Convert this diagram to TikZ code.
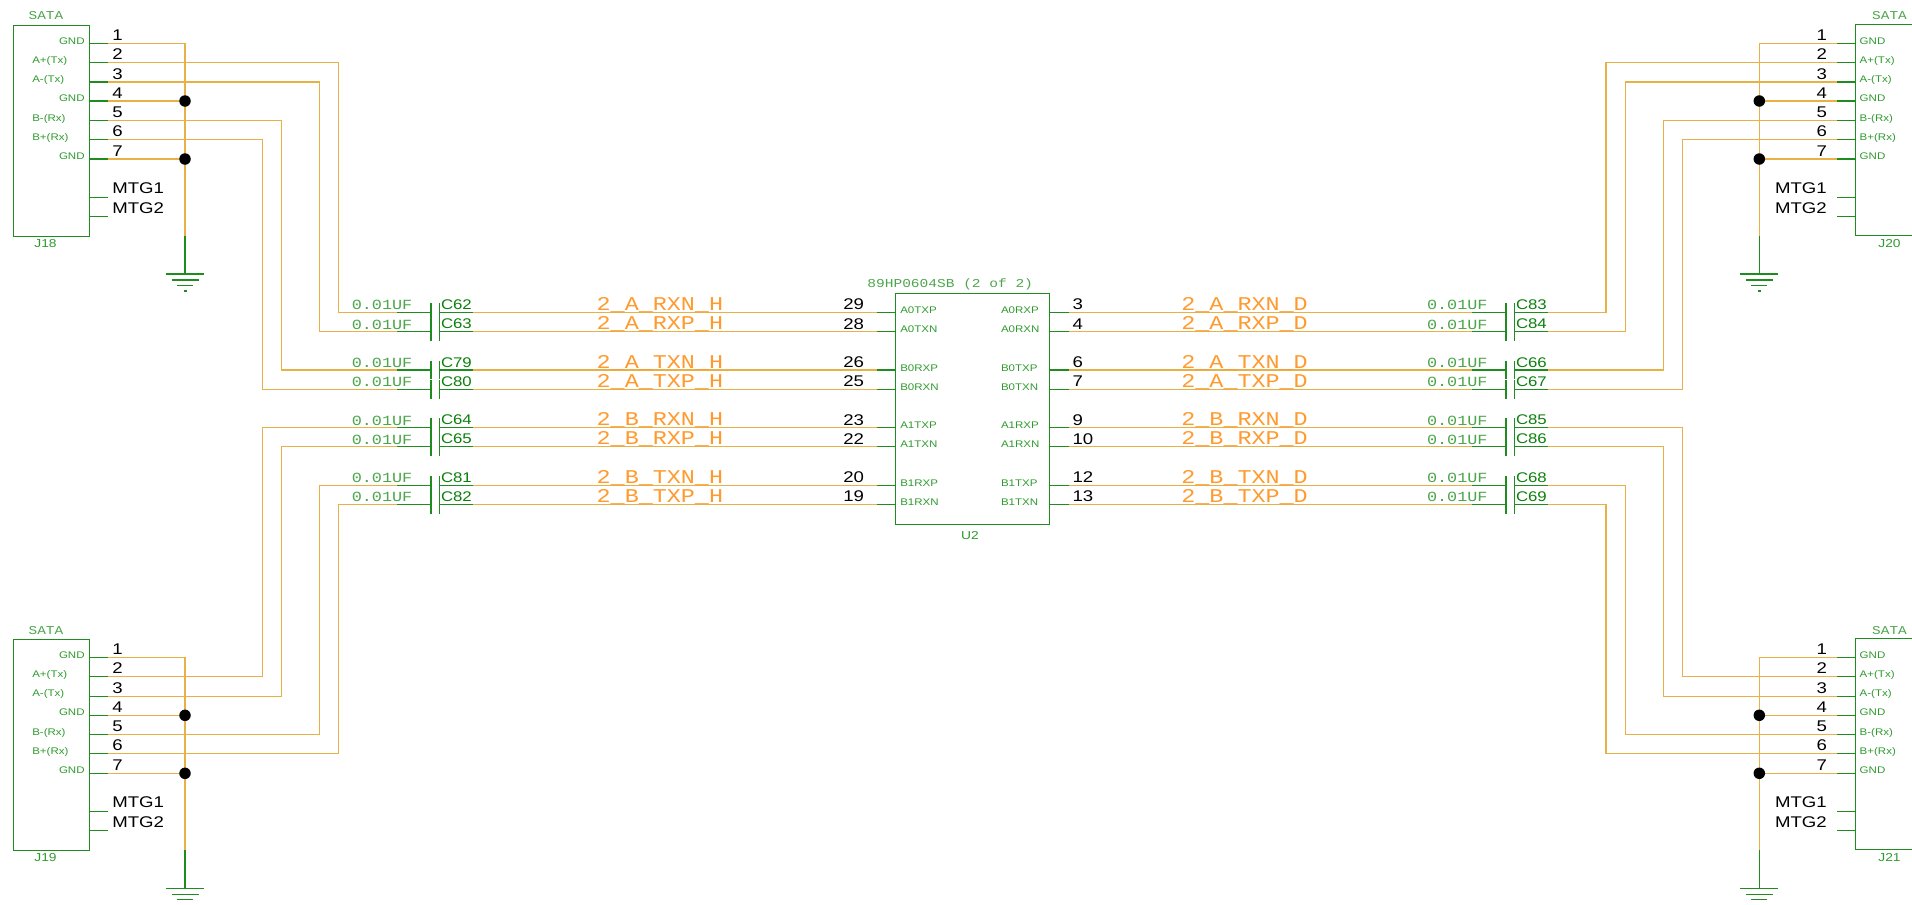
\documentclass[tikz,border=0pt]{standalone}
\usepackage{fontspec}
\newfontfamily\sansf[FakeStretch=1.2]{Liberation Sans}
\newfontfamily\monof[FakeStretch=1.2]{Liberation Mono}
\definecolor{wirec}{HTML}{E8B045}
\definecolor{gline}{HTML}{1E8C1E}
\definecolor{gtxt}{HTML}{2E9A2E}
\definecolor{gtxtl}{HTML}{4CA64C}
\definecolor{gdark}{HTML}{0A800A}
\definecolor{netc}{HTML}{FF9A2E}
\tikzset{
  x=1pt,y=-1pt,
  wire/.style={draw=wirec,line width=1.2pt},
  gl/.style={draw=gline,line width=1.1pt},
  txt/.style={inner sep=0pt,outer sep=0pt},
  pinnum/.style={txt,font=\sansf\fontsize{15.5}{15.5}\selectfont,text=black},
  small/.style={txt,font=\sansf\fontsize{9.6}{9.6}\selectfont,text=gtxt},
  sata/.style={txt,anchor=base,font=\monof\fontsize{12}{12}\selectfont,text=gtxtl},
  ref/.style={txt,anchor=base,font=\sansf\fontsize{11.5}{11.5}\selectfont,text=gtxt},
  capval/.style={txt,anchor=base west,font=\monof\fontsize{14}{14}\selectfont,text=gtxtl},
  capref/.style={txt,anchor=base west,font=\sansf\fontsize{14}{14}\selectfont,text=gdark},
  net/.style={txt,anchor=base west,font=\monof\fontsize{19.5}{19.5}\selectfont,text=netc},
  dotc/.style={circle,fill=black,inner sep=0pt,minimum size=11.5pt},
}
% #1 connector name, #2 vertical offset, #3 x at box edge, #4 x at stub end
\newcommand{\pinrows}[4]{%
  \foreach \n/\yy in {1/43.5,2/62.5,3/82,4/101,5/120.5,6/139.5,7/159,8/197.5,9/216.5}{%
    \coordinate (#1a\n) at (#3,\yy+#2);
    \coordinate (#1s\n) at (#4,\yy+#2);
    \draw[gl] (#1a\n) -- (#1s\n);
  }%
}
\newcommand{\gndsym}[3]{% name, offset, x of rail
  \coordinate (#1gt) at (#3,43.5+#2);
  \coordinate (#1gm) at (#3,236+#2);
  \coordinate (#1gb) at (#3,274+#2);
  \coordinate (#1d1) at (#3,101+#2);
  \coordinate (#1d2) at (#3,159+#2);
  \draw[wire] (#1s1) -- (#1gt) -- (#1gm);
  \draw[wire] (#1s4) -- (#1d1);
  \draw[wire] (#1s7) -- (#1d2);
  \draw[gl] (#1gm) -- (#1gb);
  \draw[gl] ([xshift=-19pt]#1gb) -- ([xshift=19pt]#1gb);
  \draw[gl] ([xshift=-13.5pt,yshift=-6pt]#1gb) -- ([xshift=13.5pt,yshift=-6pt]#1gb);
  \draw[gl] ([xshift=-8pt,yshift=-11.5pt]#1gb) -- ([xshift=8pt,yshift=-11.5pt]#1gb);
  \draw[gl] ([xshift=-1.5pt,yshift=-17pt]#1gb) -- ([xshift=1.5pt,yshift=-17pt]#1gb);
  \node[dotc] (#1n1) at (#1d1) {};
  \node[dotc] (#1n2) at (#1d2) {};
}
\newcommand{\leftconn}[3]{% name, offset, ref
  \node[draw=gline,line width=1.1pt,minimum width=76.5pt,minimum height=211pt,inner sep=0pt,anchor=north west] (#1) at (12.5,24.5+#2) {};
  \node[sata] (#1sata) at (46,19.7+#2) {SATA};
  \node[ref] (#1ref) at (45.5,247+#2) {#3};
  \foreach \n/\yy/\lab/\lx in {1/44/GND/59,2/63/A+(Tx)/32.3,3/82.5/A-(Tx)/32.3,4/101/GND/59,5/121/B-(Rx)/32.3,6/140/B+(Rx)/32.3,7/159/GND/59}{%
    \node[small,anchor=base west] (#1l\n) at (\lx,\yy+#2) {\lab};
  }
  \foreach \n/\yy in {1/40.5,2/59.5,3/79,4/98,5/117.5,6/136.5,7/156}{%
    \node[pinnum,anchor=base west] (#1t\n) at (112.3,\yy+#2) {\n};
  }
  \node[pinnum,anchor=base west] (#1m1) at (112.3,193.5+#2) {MTG1};
  \node[pinnum,anchor=base west] (#1m2) at (112.3,213.5+#2) {MTG2};
}
\newcommand{\rightconn}[3]{%
  \coordinate (#1x) at (1855.7,0);
  \coordinate (#1bt) at (1912,24.5+#2);
  \coordinate (#1bb) at (1912,235.5+#2);
  \draw[gl] (#1bt) -| (#1x |- #1bb) -- (#1bb);
  \node[sata] (#1sata) at (1889.5,19.7+#2) {SATA};
  \node[ref] (#1ref) at (1889.5,247+#2) {#3};
  \foreach \n/\yy/\lab in {1/44/GND,2/63/A+(Tx),3/82.5/A-(Tx),4/101/GND,5/121/B-(Rx),6/140/B+(Rx),7/159/GND}{%
    \node[small,anchor=base west] (#1l\n) at (1859.7,\yy+#2) {\lab};
  }
  \foreach \n/\yy in {1/40.5,2/59.5,3/79,4/98,5/117.5,6/136.5,7/156}{%
    \node[pinnum,anchor=base east] (#1t\n) at (1827,\yy+#2) {\n};
  }
  \node[pinnum,anchor=base east] (#1m1) at (1826.7,193.5+#2) {MTG1};
  \node[pinnum,anchor=base east] (#1m2) at (1826.7,213.5+#2) {MTG2};
}
% capacitor: id, row y, plate x1, plate x2, stub l, stub r, ref, value x, ref x
\newcommand{\capsym}[9]{%
  \coordinate (#1w) at (#5,#2);
  \coordinate (#1e) at (#6,#2);
  \coordinate (#1p) at (#3,#2);
  \coordinate (#1q) at (#4,#2);
  \draw[gl] (#1w) -- (#1p);
  \draw[gl] (#1q) -- (#1e);
  \draw[gl] ([yshift=9.3pt]#1p) -- ([yshift=-9.3pt]#1p);
  \draw[gl] ([yshift=9.3pt]#1q) -- ([yshift=-9.3pt]#1q);
  \node[capval] (#1val) at (#8,#2-2.5) {0.01UF};
  \node[capref] (#1ref) at (#9,#2-3) {#7};
}
\begin{document}
\begin{tikzpicture}
\useasboundingbox (0,0) rectangle (1912,905);

\coordinate (vA) at (338.7,0);
\coordinate (vB) at (319.7,0);
\coordinate (vC) at (281.7,0);
\coordinate (vD) at (262.3,0);
\coordinate (vE) at (1606,0);
\coordinate (vF) at (1625.3,0);
\coordinate (vG) at (1663.3,0);
\coordinate (vH) at (1682.7,0);

% connectors
\leftconn{JA}{0}{J18}
\leftconn{JB}{614.3}{J19}
\rightconn{JC}{0}{J20}
\rightconn{JD}{614.3}{J21}
\pinrows{JA}{0}{89}{108}
\pinrows{JB}{614.3}{89}{108}
\pinrows{JC}{0}{1855.7}{1836.7}
\pinrows{JD}{614.3}{1855.7}{1836.7}

% chip
\node[draw=gline,line width=1.1pt,minimum width=153.7pt,minimum height=230.4pt,inner sep=0pt,anchor=north west] (U) at (895,293.3) {};
\node[ref] (Uref) at (970,539) {U2};
\node[txt,anchor=base,font=\monof\fontsize{12.1}{12.1}\selectfont,text=gtxtl] (Upart) at (950.2,287.2) {89HP0604SB (2 of 2)};

% rows
\foreach \id/\yy/\capl/\capr/\ntl/\ntr/\pnl/\pnr/\lbl/\lbr in {
 1/312.3/C62/C83/2\_A\_RXN\_H/2\_A\_RXN\_D/29/3/A0TXP/A0RXP,
 2/331.7/C63/C84/2\_A\_RXP\_H/2\_A\_RXP\_D/28/4/A0TXN/A0RXN,
 3/370/C79/C66/2\_A\_TXN\_H/2\_A\_TXN\_D/26/6/B0RXP/B0TXP,
 4/389.3/C80/C67/2\_A\_TXP\_H/2\_A\_TXP\_D/25/7/B0RXN/B0TXN,
 5/427.7/C64/C85/2\_B\_RXN\_H/2\_B\_RXN\_D/23/9/A1TXP/A1RXP,
 6/446.7/C65/C86/2\_B\_RXP\_H/2\_B\_RXP\_D/22/10/A1TXN/A1RXN,
 7/485.3/C81/C68/2\_B\_TXN\_H/2\_B\_TXN\_D/20/12/B1RXP/B1TXP,
 8/504.3/C82/C69/2\_B\_TXP\_H/2\_B\_TXP\_D/19/13/B1RXN/B1TXN}{
  \coordinate (ULa\id) at (895,\yy);
  \coordinate (ULs\id) at (876.6,\yy);
  \coordinate (URa\id) at (1048.7,\yy);
  \coordinate (URs\id) at (1068.5,\yy);
  \capsym{CL\id}{\yy}{431}{439.3}{396.8}{472.6}{\capl}{351.8}{441}
  \capsym{CR\id}{\yy}{1506}{1514.5}{1471.6}{1548.4}{\capr}{1427}{1516}
  \draw[wire] (CL\id e) -- (ULs\id);
  \draw[wire] (URs\id) -- (CR\id w);
  \draw[gl] (ULs\id) -- (ULa\id);
  \draw[gl] (URa\id) -- (URs\id);
  \node[net] (NL\id) at (596.7,\yy-2) {\ntl};
  \node[net] (NR\id) at (1181.4,\yy-2) {\ntr};
  \node[pinnum,anchor=base east] (PL\id) at (864,\yy-2.5) {\pnl};
  \node[pinnum,anchor=base west] (PR\id) at (1072.5,\yy-2.5) {\pnr};
  \node[small,anchor=base west] (LL\id) at (900.3,\yy+1) {\lbl};
  \node[small,anchor=base west] (LR\id) at (1001,\yy+1) {\lbr};
}

% long wires, left
\foreach \pin/\via/\rowid in {JAs2/vA/1,JAs3/vB/2,JAs5/vC/3,JAs6/vD/4,JBs2/vD/5,JBs3/vC/6,JBs5/vB/7,JBs6/vA/8}{
  \draw[wire] (\pin) -- (\pin -| \via) -- (CL\rowid w -| \via) -- (CL\rowid w);
}
% long wires, right
\foreach \pin/\via/\rowid in {JCs2/vE/1,JCs3/vF/2,JCs5/vG/3,JCs6/vH/4,JDs2/vH/5,JDs3/vG/6,JDs5/vF/7,JDs6/vE/8}{
  \draw[wire] (CR\rowid e) -- (CR\rowid e -| \via) -- (\pin -| \via) -- (\pin);
}
\gndsym{JA}{0}{185}
\gndsym{JB}{614.3}{185}
\gndsym{JC}{0}{1759.3}
\gndsym{JD}{614.3}{1759.3}
\end{tikzpicture}
\end{document}
